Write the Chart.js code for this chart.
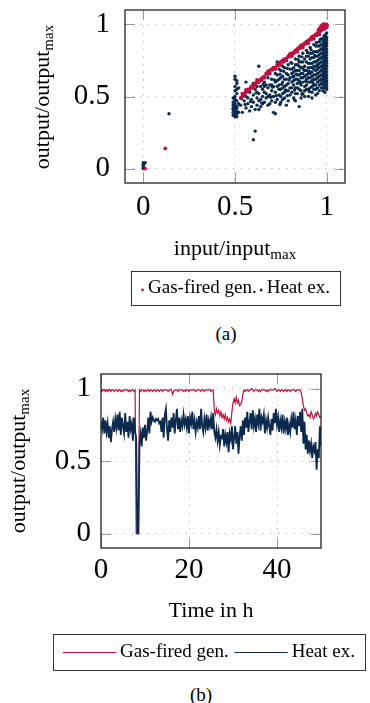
<!DOCTYPE html>
<html>
<head>
<meta charset="utf-8">
<script src="https://cdn.jsdelivr.net/npm/chart.js@4.4.0/dist/chart.umd.min.js"></script>
<style>
    html, body { margin: 0; padding: 0; background: #fff; }
    body { width: 370px; height: 703px; position: relative; overflow: hidden; font-family: 'Liberation Serif', 'Times New Roman', serif; }
    canvas { position: absolute; left: 0; }
    #chartA { top: 0; width: 370px; height: 315px; }
    #chartB { top: 350px; width: 370px; height: 330px; }
    .caption { position: absolute; width: 60px; font-size: 19px; line-height: 20px; text-align: center; color: #000; }
</style>
</head>
<body>
<canvas id="chartA" width="370" height="315"></canvas>
<canvas id="chartB" width="370" height="330"></canvas>
<div class="caption" style="left:196px; top:324px;">(a)</div>
<div class="caption" style="left:171px; top:685px;">(b)</div>
<script>
// ==================== DATA ====================

const FONT = "'Liberation Serif', 'Times New Roman', serif";
const GAS_COLOR = '#c0103f';
const HEAT_COLOR = '#0b2a4e';

const seriesNames = ['Gas-fired gen.', 'Heat ex.'];
const unitTicks = [0, 0.5, 1];
const hourTicks = [0, 20, 40];

// (a) operating points [input/input_max, output/output_max]
const gasPoints = [
    [0.01,0.00],[0.12,0.14],
    [0.53,0.49],[0.54,0.50],[0.55,0.51],[0.555,0.525],[0.56,0.53],[0.57,0.54],[0.58,0.55],[0.585,0.56],
    [0.59,0.57],[0.60,0.58],[0.61,0.58],[0.615,0.595],[0.62,0.60],[0.63,0.61],[0.64,0.62],[0.645,0.615],
    [0.65,0.63],[0.66,0.64],[0.67,0.66],[0.675,0.655],[0.68,0.66],[0.69,0.68],[0.70,0.69],[0.705,0.685],
    [0.71,0.70],[0.72,0.70],[0.73,0.72],[0.735,0.715],[0.74,0.73],[0.75,0.74],[0.76,0.75],[0.765,0.74],
    [0.77,0.76],[0.78,0.76],[0.79,0.78],[0.795,0.775],[0.80,0.79],[0.81,0.80],[0.82,0.80],[0.825,0.81],
    [0.83,0.82],[0.84,0.83],[0.85,0.84],[0.855,0.835],[0.86,0.85],[0.87,0.86],[0.88,0.87],[0.885,0.865],
    [0.89,0.88],[0.90,0.89],[0.91,0.90],[0.915,0.895],[0.92,0.91],[0.93,0.92],[0.94,0.93],[0.945,0.925],
    [0.95,0.94],[0.955,0.96],[0.96,0.95],[0.96,0.97],[0.965,0.955],[0.97,0.96],[0.97,0.98],[0.975,0.965],
    [0.975,0.98],[0.98,0.97],[0.98,0.99],[0.985,0.975],[0.985,0.99],[0.99,0.98],[0.99,0.99],[0.99,1.00],
    [0.995,0.985],[0.995,0.995],[1.00,0.99],[1.00,1.00],[1.00,0.98],[0.99,0.97],
    [0.54,0.52],[0.57,0.55],[0.60,0.56],[0.63,0.60],[0.66,0.63],[0.69,0.66],[0.72,0.69],[0.75,0.72],
    [0.78,0.75],[0.81,0.78],[0.84,0.81],[0.87,0.84],[0.90,0.87],[0.93,0.90],[0.96,0.93],[0.56,0.545],
    [0.62,0.615],[0.68,0.675],[0.74,0.735],[0.80,0.795],[0.86,0.855],[0.92,0.915],[0.98,0.985],[0.965,0.975],
    [0.975,0.99],[1.00,0.995],[0.99,0.995],[0.985,1.00],[0.97,0.99],[0.98,1.00]
];

const heatPoints = [
    [0.00,0.00],[0.00,0.01],[0.00,0.02],[0.00,0.03],[0.01,0.04],[0.00,0.04],[0.14,0.38],
    [0.60,0.20],[0.61,0.26],
    [0.50,0.37],[0.50,0.38],[0.49,0.39],[0.51,0.40],[0.50,0.41],[0.50,0.36],[0.49,0.42],[0.51,0.43],
    [0.50,0.44],[0.50,0.45],[0.49,0.46],[0.51,0.47],[0.50,0.48],[0.50,0.39],[0.51,0.38],[0.49,0.37],
    [0.50,0.40],[0.51,0.42],[0.49,0.44],[0.50,0.47],[0.50,0.50],[0.51,0.52],[0.50,0.54],[0.50,0.57],
    [0.51,0.59],[0.50,0.62],[0.50,0.64],[0.51,0.55],[0.49,0.41],[0.52,0.45],[0.52,0.39],[0.51,0.36],
    [0.50,0.43],[0.49,0.49],[0.52,0.56],[0.51,0.61],
    [0.53,0.44],[0.54,0.39],[0.55,0.47],[0.56,0.42],[0.56,0.50],[0.57,0.45],[0.58,0.40],[0.58,0.53],
    [0.59,0.48],[0.59,0.43],[0.60,0.51],[0.60,0.46],[0.61,0.55],[0.61,0.41],[0.62,0.49],[0.62,0.44],
    [0.60,0.59],[0.57,0.49],[0.56,0.60],[0.63,0.71],[0.73,0.74],[0.81,0.79],[0.87,0.855],
    [0.63,0.52],[0.63,0.47],[0.64,0.57],[0.64,0.43],[0.65,0.50],[0.65,0.55],[0.66,0.46],[0.66,0.60],
    [0.67,0.52],[0.67,0.49],[0.68,0.56],[0.68,0.44],[0.69,0.58],[0.69,0.51],[0.70,0.62],[0.70,0.47],
    [0.70,0.54],[0.64,0.61],[0.66,0.53],[0.68,0.63],[0.62,0.57],[0.65,0.45],[0.67,0.58],[0.69,0.45],
    [0.63,0.41],[0.71,0.57],[0.71,0.50],[0.72,0.38],[0.71,0.39],
    [0.72,0.60],[0.72,0.53],[0.73,0.48],[0.73,0.65],[0.73,0.57],[0.74,0.62],[0.74,0.51],[0.75,0.68],
    [0.75,0.55],[0.75,0.46],[0.76,0.60],[0.76,0.64],[0.76,0.52],[0.77,0.57],[0.77,0.70],[0.77,0.49],
    [0.78,0.62],[0.78,0.66],[0.78,0.54],[0.79,0.59],[0.79,0.72],[0.79,0.47],[0.80,0.63],[0.80,0.56],
    [0.80,0.69],[0.74,0.58],[0.76,0.56],[0.78,0.58],[0.73,0.61],[0.75,0.63],[0.77,0.53],[0.79,0.65],
    [0.72,0.66],[0.74,0.69],[0.76,0.71],[0.80,0.51],[0.78,0.44],[0.75,0.50],
    [0.81,0.60],[0.81,0.66],[0.81,0.73],[0.81,0.53],[0.82,0.58],[0.82,0.64],[0.82,0.70],[0.82,0.49],
    [0.83,0.62],[0.83,0.76],[0.83,0.56],[0.83,0.68],[0.84,0.59],[0.84,0.65],[0.84,0.72],[0.84,0.52],
    [0.85,0.61],[0.85,0.68],[0.85,0.78],[0.85,0.43],[0.85,0.55],[0.86,0.63],[0.86,0.70],[0.86,0.58],
    [0.86,0.74],[0.87,0.66],[0.87,0.60],[0.87,0.80],[0.87,0.52],[0.88,0.64],[0.88,0.71],[0.88,0.57],
    [0.88,0.76],[0.89,0.62],[0.89,0.68],[0.89,0.55],[0.89,0.82],[0.90,0.66],[0.90,0.73],[0.90,0.60],
    [0.90,0.78],[0.90,0.50],[0.83,0.47],[0.86,0.49],[0.88,0.50],[0.84,0.62],[0.87,0.70],[0.89,0.74],
    [0.82,0.67],[0.85,0.71],
    [0.91,0.63],[0.91,0.70],[0.91,0.76],[0.91,0.56],[0.91,0.84],[0.92,0.61],[0.92,0.67],[0.92,0.73],
    [0.92,0.80],[0.92,0.53],[0.93,0.65],[0.93,0.71],[0.93,0.58],[0.93,0.77],[0.93,0.86],[0.94,0.62],
    [0.94,0.68],[0.94,0.74],[0.94,0.81],[0.94,0.55],[0.95,0.66],[0.95,0.72],[0.95,0.60],[0.95,0.78],
    [0.95,0.85],[0.95,0.52],[0.96,0.64],[0.96,0.70],[0.96,0.76],[0.96,0.82],[0.96,0.58],[0.96,0.88],
    [0.97,0.62],[0.97,0.68],[0.97,0.74],[0.97,0.80],[0.97,0.56],[0.97,0.86],[0.97,0.90],[0.92,0.49],
    [0.94,0.51],[0.96,0.54],[0.93,0.69],[0.95,0.75],[0.91,0.66],[0.94,0.78],[0.96,0.67],
    [0.98,0.54],[0.98,0.58],[0.98,0.62],[0.98,0.66],[0.98,0.70],[0.98,0.74],[0.98,0.78],[0.98,0.82],
    [0.98,0.86],[0.98,0.90],[0.99,0.53],[0.99,0.56],[0.99,0.60],[0.99,0.64],[0.99,0.68],[0.99,0.72],
    [0.99,0.76],[0.99,0.80],[0.99,0.84],[0.99,0.88],[0.99,0.92],[1.00,0.55],[1.00,0.59],[1.00,0.63],
    [1.00,0.67],[1.00,0.71],[1.00,0.75],[1.00,0.79],[1.00,0.83],[1.00,0.87],[1.00,0.91],[1.00,0.94],
    [0.99,0.70],[0.99,0.74],[0.99,0.78],[0.98,0.72],[1.00,0.73],[1.00,0.77],[0.99,0.66],[0.98,0.68],
    [1.00,0.69],[0.99,0.82],[1.00,0.81],[0.98,0.76],[0.99,0.62],[1.00,0.65],[0.995,0.71],[0.995,0.75],
    [0.985,0.64],[0.985,0.80],[0.995,0.58],[0.995,0.86],
    [0.62,0.53],[0.64,0.48],[0.66,0.57],[0.68,0.50],[0.70,0.58],[0.72,0.46],[0.74,0.55],[0.76,0.48],
    [0.77,0.62],[0.79,0.54],[0.81,0.56],[0.81,0.69],[0.82,0.61],[0.83,0.52],[0.83,0.72],[0.84,0.56],
    [0.84,0.68],[0.85,0.65],[0.85,0.74],[0.86,0.54],[0.86,0.66],[0.87,0.63],[0.87,0.74],[0.88,0.54],
    [0.88,0.68],[0.89,0.58],[0.89,0.65],[0.89,0.78],[0.90,0.55],[0.90,0.63],[0.90,0.70],[0.91,0.60],
    [0.91,0.73],[0.91,0.80],[0.92,0.57],[0.92,0.64],[0.92,0.70],[0.92,0.77],[0.93,0.55],[0.93,0.62],
    [0.93,0.74],[0.93,0.81],[0.94,0.58],[0.94,0.65],[0.94,0.71],[0.94,0.85],[0.95,0.56],[0.95,0.63],
    [0.95,0.69],[0.95,0.81],[0.96,0.61],[0.96,0.73],[0.96,0.79],[0.96,0.85],[0.97,0.59],[0.97,0.65],
    [0.97,0.71],[0.97,0.77],[0.97,0.83],[0.98,0.56],[0.98,0.60],[0.98,0.64],[0.98,0.80],[0.98,0.84],
    [0.98,0.88],[0.99,0.58],[0.99,0.86],[0.99,0.90],[1.00,0.57],[1.00,0.61],[1.00,0.85],[1.00,0.89],
    [0.985,0.92],[0.995,0.93],
    [0.705,0.565],[0.715,0.615],[0.725,0.505],[0.745,0.655],[0.755,0.585],[0.765,0.675],[0.775,0.545],[0.785,0.695],
    [0.795,0.615],[0.805,0.735],[0.815,0.635],[0.825,0.545],[0.835,0.655],[0.845,0.755],[0.855,0.595],[0.865,0.775],
    [0.875,0.685],[0.885,0.605],[0.895,0.805],[0.905,0.675],[0.915,0.825],[0.925,0.595],[0.935,0.785],[0.945,0.875],
    [0.955,0.705],[0.965,0.895],[0.975,0.615],[0.985,0.705],[0.905,0.535],[0.865,0.515],[0.825,0.475],[0.785,0.505],
    [0.745,0.445],[0.695,0.495],[0.655,0.585],[0.615,0.525],[0.585,0.465],[0.555,0.445],[0.535,0.485],[0.645,0.455]
];

// (b) output over time, one value every 15 min from 0 h to 50 h
const stepHours = 0.25;

const gasSeries = [
    0.99,0.98,0.99,0.99, 0.98,0.99,0.98,0.99, 0.99,0.98,0.99,0.99, 0.98,0.99,0.99,0.98,
    0.99,0.99,0.98,0.99, 0.98,0.99,0.99,0.99, 0.99,0.98,0.99,0.98, 0.99,0.99,0.98,0.99,
    0.00,0.00,0.00,0.99, 0.98,0.99,0.99,0.98, 0.99,0.98,0.99,0.99, 0.98,0.99,0.99,0.98,
    0.99,0.99,0.98,0.99, 0.99,0.98,0.99,0.99, 0.98,0.99,0.99,0.99, 0.99,0.98,0.99,0.99,
    0.99,0.96,0.98,0.99, 0.99,0.99,0.98,0.99, 0.99,0.99,0.99,0.98, 0.99,0.98,0.99,0.99,
    0.98,0.99,0.99,0.99, 0.99,0.99,0.98,0.99, 0.99,0.99,0.99,0.98, 0.99,0.99,0.98,0.99,
    0.99,0.99,0.99,0.99, 0.98,0.99,0.99,0.85, 0.82,0.86,0.83,0.85, 0.81,0.84,0.80,0.82,
    0.79,0.82,0.78,0.80, 0.77,0.79,0.76,0.84, 0.90,0.93,0.90,0.94, 0.90,0.92,0.88,0.89,
    0.91,0.96,0.99,0.98, 0.99,0.99,0.98,0.99, 0.99,1.00,0.99,0.98, 0.99,0.99,0.99,0.98,
    0.99,0.98,0.99,0.99, 0.99,0.99,0.98,0.99, 0.98,0.99,0.99,0.99, 0.99,0.99,1.00,0.99,
    0.98,0.99,0.99,0.98, 0.99,0.99,0.98,0.99, 0.99,0.98,0.99,0.99, 0.98,0.99,0.99,0.99,
    0.99,0.98,0.99,0.99, 0.99,0.99,0.97,0.93, 0.88,0.85,0.86,0.83, 0.81,0.82,0.80,0.84,
    0.82,0.79,0.80,0.83, 0.81,0.84,0.82,0.80, 0.81
];

const heatSeries = [
    0.77,0.72,0.80,0.69, 0.78,0.70,0.76,0.66, 0.74,0.63,0.72,0.77, 0.70,0.79,0.73,0.82,
    0.71,0.84,0.68,0.80, 0.74,0.69,0.83,0.70, 0.77,0.66,0.81,0.72, 0.76,0.64,0.80,0.70,
    0.66,0.00,0.00,0.63, 0.69,0.60,0.73,0.66, 0.75,0.64,0.71,0.80, 0.69,0.84,0.77,0.80,
    0.78,0.77,0.79,0.78, 0.79,0.76,0.77,0.70, 0.80,0.66,0.82,0.86, 0.72,0.64,0.78,0.70,
    0.80,0.73,0.83,0.69, 0.78,0.86,0.72,0.80, 0.70,0.78,0.74,0.82, 0.75,0.79,0.73,0.81,
    0.69,0.80,0.76,0.84, 0.72,0.78,0.70,0.77, 0.73,0.81,0.72,0.86, 0.74,0.70,0.79,0.73,
    0.82,0.71,0.78,0.74, 0.80,0.72,0.83,0.70, 0.66,0.72,0.64,0.70, 0.61,0.67,0.66,0.72,
    0.60,0.68,0.63,0.70, 0.56,0.69,0.65,0.74, 0.58,0.66,0.74,0.62, 0.70,0.55,0.67,0.74,
    0.64,0.78,0.68,0.80, 0.73,0.84,0.70,0.77, 0.83,0.72,0.85,0.74, 0.79,0.70,0.82,0.76,
    0.86,0.71,0.80,0.77, 0.82,0.69,0.78,0.73, 0.80,0.74,0.68,0.79, 0.71,0.83,0.76,0.86,
    0.75,0.80,0.70,0.78, 0.73,0.82,0.69,0.77, 0.72,0.80,0.68,0.75, 0.70,0.79,0.73,0.84,
    0.72,0.78,0.68,0.81, 0.74,0.84,0.70,0.86, 0.62,0.77,0.58,0.68, 0.55,0.64,0.57,0.62,
    0.52,0.60,0.57,0.63, 0.44,0.58,0.52,0.74, 0.60
];

// ==================== HELPERS ====================

function toXY(points) {
    return points.map(p => ({ x: p[0], y: p[1] }));
}

function toTimeXY(values) {
    return values.map((v, i) => ({ x: i * stepHours, y: v }));
}

function fixedTicks(list) {
    return scale => { scale.ticks = list.map(v => ({ value: v })); };
}

function axisOptions(min, max, tickList, size, padding) {
    return {
        type: 'linear',
        min: min,
        max: max,
        afterBuildTicks: fixedTicks(tickList),
        afterFit: scale => {
            if (scale.isHorizontal()) scale.height = size;
            else scale.width = size;
            // labels never sit on the plot edge, so no extra room is needed for them
            scale.paddingTop = 0;
            scale.paddingBottom = 0;
            scale.paddingLeft = 0;
            scale.paddingRight = 0;
        },
        ticks: {
            color: '#000',
            padding: padding,
            font: { family: FONT, size: 29 },
            callback: value => String(value)
        },
        grid: {
            color: '#b5b5b5',
            lineWidth: 1,
            drawTicks: false
        },
        border: { display: false, dash: [1.2, 6.5] }
    };
}

// frame round the plot area plus short solid tick marks pointing inside
const frameAndTicks = {
    id: 'frameAndTicks',
    beforeDatasetsDraw(chart) {
        const { ctx, chartArea: a, scales } = chart;
        const len = 10;
        ctx.save();
        ctx.strokeStyle = '#999';
        ctx.lineWidth = 1;
        ctx.beginPath();
        scales.x.ticks.forEach(t => {
            const px = Math.round(scales.x.getPixelForValue(t.value)) + 0.5;
            ctx.moveTo(px, a.top); ctx.lineTo(px, a.top + len);
            ctx.moveTo(px, a.bottom); ctx.lineTo(px, a.bottom - len);
        });
        scales.y.ticks.forEach(t => {
            const py = Math.round(scales.y.getPixelForValue(t.value)) + 0.5;
            ctx.moveTo(a.left, py); ctx.lineTo(a.left + len, py);
            ctx.moveTo(a.right, py); ctx.lineTo(a.right - len, py);
        });
        ctx.stroke();
        ctx.restore();
    },
    afterDatasetsDraw(chart) {
        const { ctx, chartArea: a } = chart;
        ctx.save();
        ctx.strokeStyle = '#222';
        ctx.lineWidth = 1.3;
        ctx.strokeRect(a.left, a.top, a.right - a.left, a.bottom - a.top);
        ctx.restore();
    }
};

// axis titles with a "max" subscript
function makeTitles(items) {
    return {
        id: 'axisTitles',
        afterDraw(chart) {
            const ctx = chart.ctx;
            items.forEach(item => {
                ctx.save();
                ctx.fillStyle = '#000';
                ctx.textBaseline = 'alphabetic';
                ctx.translate(item.x, item.y);
                if (item.vertical) ctx.rotate(-Math.PI / 2);
                ctx.font = '22px ' + FONT;
                const mainW = ctx.measureText(item.text).width;
                ctx.font = '15px ' + FONT;
                const subW = item.sub ? ctx.measureText(item.sub).width : 0;
                const x0 = -(mainW + subW) / 2;
                ctx.font = '22px ' + FONT;
                ctx.fillText(item.text, x0, 0);
                if (item.sub) {
                    ctx.font = '15px ' + FONT;
                    ctx.fillText(item.sub, x0 + mainW, 4);
                }
                ctx.restore();
            });
        }
    };
}

// legend in a framed box, one row
function makeLegend(o) {
    return {
        id: 'boxedLegend',
        afterDraw(chart) {
            const ctx = chart.ctx;
            ctx.save();
            ctx.font = '19px ' + FONT;
            const items = chart.data.datasets.map(ds => ({
                text: ds.label,
                color: ds.borderColor,
                w: ctx.measureText(ds.label).width
            }));
            let total = o.padX * 2;
            items.forEach((it, i) => {
                total += o.markerWidth + o.gap + it.w + (i ? o.itemGap : 0);
            });
            const left = Math.round(o.centerX - total / 2);
            const top = Math.round(o.centerY - o.height / 2);
            ctx.strokeStyle = '#333';
            ctx.lineWidth = 1;
            ctx.strokeRect(left + 0.5, top + 0.5, Math.round(total), o.height);

            let x = left + o.padX;
            ctx.textBaseline = 'middle';
            items.forEach((it, i) => {
                if (i) x += o.itemGap;
                if (o.marker === 'line') {
                    ctx.strokeStyle = it.color;
                    ctx.lineWidth = 1.2;
                    ctx.beginPath();
                    ctx.moveTo(x, o.centerY + 0.5);
                    ctx.lineTo(x + o.markerWidth, o.centerY + 0.5);
                    ctx.stroke();
                } else {
                    ctx.fillStyle = it.color;
                    ctx.beginPath();
                    ctx.arc(x + o.markerWidth / 2, o.centerY + 2, 1.4, 0, Math.PI * 2);
                    ctx.fill();
                }
                x += o.markerWidth + o.gap;
                ctx.fillStyle = '#000';
                ctx.fillText(it.text, x, o.centerY);
                x += it.w;
            });
            ctx.restore();
        }
    };
}

// ==================== (a) SCATTER ====================

function renderScatter() {
    const ctx = document.getElementById('chartA');
    return new Chart(ctx, {
        type: 'scatter',
        data: {
            datasets: [
                {
                    label: seriesNames[0],
                    data: toXY(gasPoints),
                    order: 0,
                    borderColor: GAS_COLOR,
                    backgroundColor: GAS_COLOR,
                    pointBackgroundColor: GAS_COLOR,
                    pointBorderWidth: 0,
                    pointRadius: 1.9
                },
                {
                    label: seriesNames[1],
                    data: toXY(heatPoints),
                    order: 1,
                    borderColor: HEAT_COLOR,
                    backgroundColor: HEAT_COLOR,
                    pointBackgroundColor: HEAT_COLOR,
                    pointBorderWidth: 0,
                    pointRadius: 1.7
                }
            ]
        },
        options: {
            responsive: false,
            animation: false,
            devicePixelRatio: 1,
            events: [],
            layout: { padding: { left: 0, right: 25, top: 10, bottom: 0 } },
            scales: {
                x: axisOptions(-0.1, 1.1, unitTicks, 132, 7),
                y: axisOptions(-0.1, 1.1, unitTicks, 125, 15)
            },
            plugins: {
                legend: { display: false },
                tooltip: { enabled: false }
            }
        },
        plugins: [
            frameAndTicks,
            makeTitles([
                { text: 'output/output', sub: 'max', x: 49, y: 97, vertical: true },
                { text: 'input/input', sub: 'max', x: 235, y: 255, vertical: false }
            ]),
            makeLegend({ marker: 'dot', markerWidth: 3, gap: 4, itemGap: 3, padX: 10, centerX: 235.5, centerY: 288, height: 34 })
        ]
    });
}

// ==================== (b) TIME SERIES ====================

function renderTimeSeries() {
    const ctx = document.getElementById('chartB');
    return new Chart(ctx, {
        type: 'line',
        data: {
            datasets: [
                {
                    label: seriesNames[0],
                    data: toTimeXY(gasSeries),
                    order: 1,
                    borderColor: GAS_COLOR,
                    borderWidth: 1.2,
                    pointRadius: 0,
                    tension: 0,
                    fill: false
                },
                {
                    label: seriesNames[1],
                    data: toTimeXY(heatSeries),
                    order: 0,
                    borderColor: HEAT_COLOR,
                    borderWidth: 1.8,
                    pointRadius: 0,
                    tension: 0,
                    fill: false
                }
            ]
        },
        options: {
            responsive: false,
            animation: false,
            devicePixelRatio: 1,
            events: [],
            layout: { padding: { left: 0, right: 49, top: 24, bottom: 0 } },
            scales: {
                x: axisOptions(0, 50, hourTicks, 132, 5),
                y: axisOptions(-0.1, 1.1, unitTicks, 101, 10)
            },
            plugins: {
                legend: { display: false },
                tooltip: { enabled: false }
            }
        },
        plugins: [
            frameAndTicks,
            makeTitles([
                { text: 'output/output', sub: 'max', x: 25, y: 111, vertical: true },
                { text: 'Time in h', sub: '', x: 211, y: 267, vertical: false }
            ]),
            makeLegend({ marker: 'line', markerWidth: 53, gap: 4, itemGap: 6, padX: 10, centerX: 208.5, centerY: 302, height: 36 })
        ]
    });
}

renderScatter();
renderTimeSeries();
</script>
</body>
</html>
